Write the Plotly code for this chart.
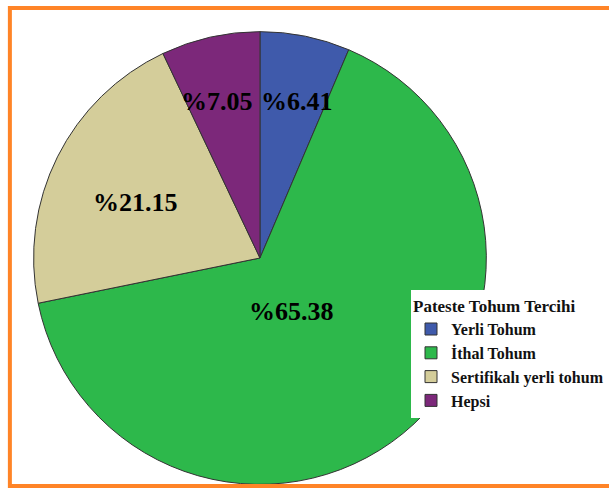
import plotly.graph_objects as go

categories = ["Yerli Tohum", "İthal Tohum", "Sertifikalı yerli tohum", "Hepsi"]
values = [6.41, 65.38, 21.15, 7.05]
colors = ["#3F5AAB", "#2DB84B", "#D4CD9A", "#7C287A"]
legend_title = "Pateste Tohum Tercihi"

W, H = 609, 490
cx, cy, r = 263, 258, 229

fig = go.Figure(go.Pie(
    labels=categories,
    values=values,
    sort=False,
    direction="clockwise",
    rotation=0,
    textinfo="none",
    hoverinfo="label+percent",
    marker=dict(colors=colors, line=dict(color="#333333", width=1)),
    domain=dict(x=[(cx - r) / W, (cx + r) / W], y=[(H - cy - r) / H, (H - cy + r) / H]),
))

label_pos = [(300, 101), (295, 311), (137, 202), (220, 101)]
annotations = []
for v, (px, py) in zip(values, label_pos):
    annotations.append(dict(
        x=px / W, y=1 - py / H, xref="paper", yref="paper",
        text=f"<b>%{v:.2f}</b>", showarrow=False,
        font=dict(family="Liberation Serif", size=26, color="black"),
        xanchor="center", yanchor="middle",
    ))

fig.update_layout(
    width=W, height=H,
    margin=dict(l=0, r=0, t=0, b=0),
    paper_bgcolor="white",
    plot_bgcolor="white",
    showlegend=True,
    legend=dict(
        title=dict(text=f"<b>{legend_title}</b>", font=dict(family="Liberation Serif", size=17, color="#111")),
        x=416 / W, y=1 - 290 / H, xanchor="left", yanchor="top",
        bgcolor="white",
        font=dict(family="Liberation Serif", size=16, color="#111", weight="bold"),
        tracegroupgap=0,
        itemwidth=30,
    ),
    annotations=annotations,
    shapes=[dict(
        type="rect", xref="paper", yref="paper",
        x0=10 / W, x1=1.05, y0=(H - 486) / H, y1=(H - 8) / H,
        line=dict(color="#FF8427", width=4), fillcolor="rgba(0,0,0,0)",
    )],
)

fig.write_html("out.html", config={"displayModeBar": False})
with open("out.html", "r", encoding="utf-8") as f:
    html = f.read()
html = html.replace("<head>", "<head><style>html,body{margin:0;padding:0;overflow:hidden;}</style>", 1)
with open("out.html", "w", encoding="utf-8") as f:
    f.write(html)
